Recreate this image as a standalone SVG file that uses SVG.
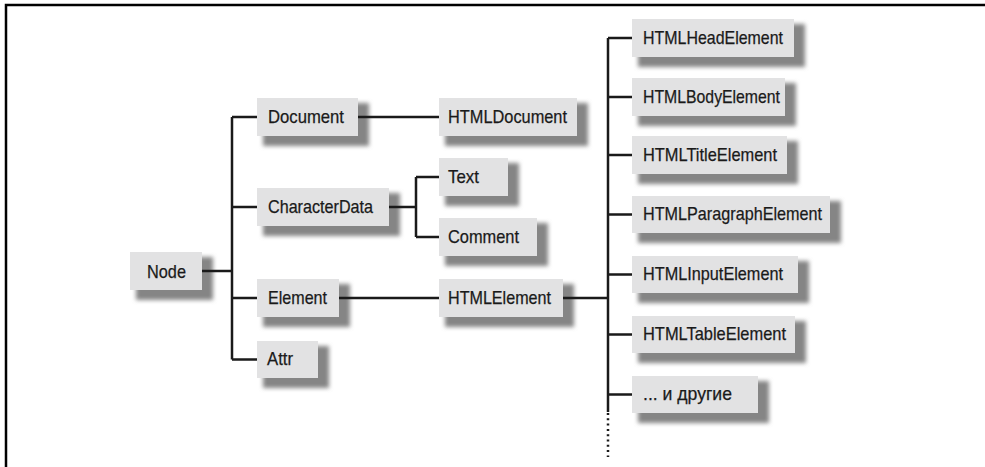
<svg xmlns="http://www.w3.org/2000/svg" width="985" height="467" viewBox="0 0 985 467">
<defs>
<style>
.bx{fill:#e2e2e3}
.sh{fill:#858585;filter:url(#blur)}
.t{font-family:"Liberation Sans",Arial,sans-serif;font-size:19px;fill:#1a1a1a;stroke:#1a1a1a;stroke-width:0.25}
.ln{stroke:#1a1a1a;stroke-width:2.5;fill:none}
.dot{stroke:#1a1a1a;stroke-width:2.5;fill:none;stroke-dasharray:2 3.3}
.fr{stroke:#000;stroke-width:2.5;fill:none}
</style>
<filter id="blur" x="-20%" y="-40%" width="140%" height="180%"><feGaussianBlur stdDeviation="2"/></filter>
</defs>
<rect width="985" height="467" fill="#fff"/>
<g id="frame"><path class="fr" d="M6,467 V5 H985"/></g>

<g id="n-node"><rect class="sh" x="136" y="257" width="77" height="43"/><rect class="bx" x="130" y="252" width="72" height="38"/><text class="t" x="147" y="278" textLength="39" lengthAdjust="spacingAndGlyphs">Node</text></g>
<g id="n-document"><rect class="sh" x="263" y="103" width="106" height="43"/><rect class="bx" x="257" y="98" width="101" height="38"/><text class="t" x="268" y="123" textLength="76" lengthAdjust="spacingAndGlyphs">Document</text></g>
<g id="n-characterdata"><rect class="sh" x="263" y="193" width="137" height="43"/><rect class="bx" x="257" y="188" width="132" height="38"/><text class="t" x="268" y="213" textLength="105" lengthAdjust="spacingAndGlyphs">CharacterData</text></g>
<g id="n-element"><rect class="sh" x="263" y="284" width="87" height="43"/><rect class="bx" x="257" y="279" width="82" height="38"/><text class="t" x="268" y="304" textLength="59" lengthAdjust="spacingAndGlyphs">Element</text></g>
<g id="n-attr"><rect class="sh" x="263" y="346" width="66" height="42"/><rect class="bx" x="257" y="341" width="61" height="37"/><text class="t" x="267" y="365" textLength="26" lengthAdjust="spacingAndGlyphs">Attr</text></g>

<g id="n-htmldocument"><rect class="sh" x="445" y="103" width="143" height="43"/><rect class="bx" x="439" y="98" width="138" height="38"/><text class="t" x="448" y="123" textLength="119" lengthAdjust="spacingAndGlyphs">HTMLDocument</text></g>
<g id="n-text"><rect class="sh" x="445" y="163" width="74" height="43"/><rect class="bx" x="439" y="158" width="69" height="38"/><text class="t" x="448" y="183" textLength="31" lengthAdjust="spacingAndGlyphs">Text</text></g>
<g id="n-comment"><rect class="sh" x="445" y="223" width="103" height="43"/><rect class="bx" x="439" y="218" width="98" height="38"/><text class="t" x="448" y="243" textLength="71" lengthAdjust="spacingAndGlyphs">Comment</text></g>
<g id="n-htmlelement"><rect class="sh" x="445" y="284" width="129" height="43"/><rect class="bx" x="439" y="279" width="124" height="38"/><text class="t" x="448" y="304" textLength="103" lengthAdjust="spacingAndGlyphs">HTMLElement</text></g>

<g id="n-htmlhead"><rect class="sh" x="638" y="24" width="167" height="43"/><rect class="bx" x="632" y="19" width="162" height="38"/><text class="t" x="643" y="44" textLength="140" lengthAdjust="spacingAndGlyphs">HTMLHeadElement</text></g>
<g id="n-htmlbody"><rect class="sh" x="638" y="83" width="158" height="43"/><rect class="bx" x="632" y="78" width="153" height="38"/><text class="t" x="643" y="103" textLength="137" lengthAdjust="spacingAndGlyphs">HTMLBodyElement</text></g>
<g id="n-htmltitle"><rect class="sh" x="638" y="141" width="160" height="43"/><rect class="bx" x="632" y="136" width="155" height="38"/><text class="t" x="643" y="161" textLength="134" lengthAdjust="spacingAndGlyphs">HTMLTitleElement</text></g>
<g id="n-htmlparagraph"><rect class="sh" x="638" y="201" width="203" height="42"/><rect class="bx" x="632" y="196" width="198" height="37"/><text class="t" x="643" y="220" textLength="179" lengthAdjust="spacingAndGlyphs">HTMLParagraphElement</text></g>
<g id="n-htmlinput"><rect class="sh" x="638" y="261" width="171" height="42"/><rect class="bx" x="632" y="256" width="166" height="37"/><text class="t" x="643" y="280" textLength="140" lengthAdjust="spacingAndGlyphs">HTMLInputElement</text></g>
<g id="n-htmltable"><rect class="sh" x="638" y="321" width="168" height="42"/><rect class="bx" x="632" y="316" width="163" height="37"/><text class="t" x="643" y="340" textLength="143" lengthAdjust="spacingAndGlyphs">HTMLTableElement</text></g>
<g id="n-others"><rect class="sh" x="638" y="381" width="131" height="42"/><rect class="bx" x="632" y="376" width="126" height="37"/><text class="t" x="643" y="400" textLength="89" lengthAdjust="spacingAndGlyphs">... и другие</text></g>

<g id="connectors">
<path class="ln" d="M202,271 H232 M232,117 V359.5 M232,117 H257 M232,207 H257 M232,298 H257 M232,359.5 H257"/>
<path class="ln" d="M358,117 H439"/>
<path class="ln" d="M389,207 H416 M416,177 V237 M416,177 H439 M416,237 H439"/>
<path class="ln" d="M339,298 H439"/>
<path class="ln" d="M563,298 H608"/>
<path class="ln" d="M608,38 V412 M608,38 H632 M608,97 H632 M608,155 H632 M608,214.5 H632 M608,274.5 H632 M608,334.5 H632 M608,394.5 H632"/>
<path class="dot" d="M608,413 V457"/>
</g>
</svg>
